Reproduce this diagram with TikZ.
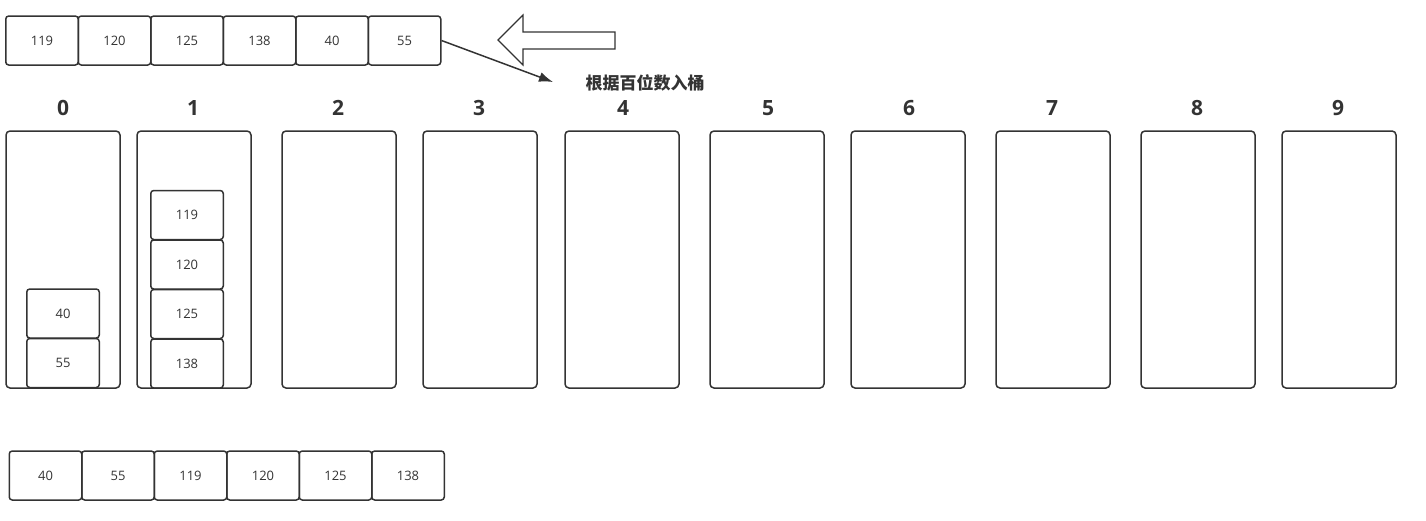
\documentclass[tikz,border=0pt]{standalone}
\usepackage{fontspec}
\setmainfont{Open Sans}
\newfontfamily\cjk{Noto Sans CJK SC}
\usetikzlibrary{arrows.meta}
\definecolor{ink}{HTML}{333333}
\begin{document}
\begin{tikzpicture}
			[x=1pt,y=-1pt,
			cell/.style={draw=ink,line width=1.5pt,rounded corners=3pt,minimum width=72.5pt,minimum height=49pt,inner sep=0pt,text=ink,font=\fontsize{13}{15}\selectfont},
			bucket/.style={draw=ink,line width=1.5pt,rounded corners=4pt,minimum width=114pt,minimum height=257pt,inner sep=0pt},
			digit/.style={text=ink,font=\fontsize{21}{25}\selectfont\bfseries},
			>={Latex[length=14pt,width=10pt]}]
			\useasboundingbox(0,0)rectangle(1426,520);
			% input sequence
			\node[cell,name=a1]at(42,40.5){119};
			\node[cell,name=a2]at(114.5,40.5){120};
			\node[cell,name=a3]at(187,40.5){125};
			\node[cell,name=a4]at(259.5,40.5){138};
			\node[cell,name=a5]at(332,40.5){40};
			\node[cell,name=a6]at(404.5,40.5){55};
			\draw[ink,line width=1.2pt,fill=white](615,32)--(523,32)--(523,15)--(498,40)--(523,65)--(523,49)--(615,49)--cycle;
			\coordinate(hit)at(553,82);
			\draw[->,ink,line width=1.5pt](a6.east)--(hit);
			\node[name=rule,text=ink,font=\cjk\fontsize{17}{19}\selectfont\bfseries]at(645,83){根据百位数入桶};
			% buckets
			\node[bucket,name=b0]at(63,259.5){};
			\node[bucket,name=b1]at(194,259.5){};
			\node[bucket,name=b2]at(339,259.5){};
			\node[bucket,name=b3]at(480,259.5){};
			\node[bucket,name=b4]at(622,259.5){};
			\node[bucket,name=b5]at(767,259.5){};
			\node[bucket,name=b6]at(908,259.5){};
			\node[bucket,name=b7]at(1053,259.5){};
			\node[bucket,name=b8]at(1198,259.5){};
			\node[bucket,name=b9]at(1339,259.5){};
			\node[digit,name=d0]at(63,108){0};
			\node[digit,name=d1]at(193,108){1};
			\node[digit,name=d2]at(338,108){2};
			\node[digit,name=d3]at(479,108){3};
			\node[digit,name=d4]at(623,108){4};
			\node[digit,name=d5]at(768,108){5};
			\node[digit,name=d6]at(909,108){6};
			\node[digit,name=d7]at(1052,108){7};
			\node[digit,name=d8]at(1197,108){8};
			\node[digit,name=d9]at(1338,108){9};
			% bucket contents
			\node[cell,name=c40]at(63,313.5){40};
			\node[cell,name=c55]at(63,363){55};
			\node[cell,name=c119]at(187,215){119};
			\node[cell,name=c120]at(187,264.5){120};
			\node[cell,name=c125]at(187,314){125};
			\node[cell,name=c138]at(187,363.5){138};
			% collected sequence
			\node[cell,name=e1]at(45.5,475.5){40};
			\node[cell,name=e2]at(118,475.5){55};
			\node[cell,name=e3]at(190.5,475.5){119};
			\node[cell,name=e4]at(263,475.5){120};
			\node[cell,name=e5]at(335.5,475.5){125};
			\node[cell,name=e6]at(408,475.5){138};
		\end{tikzpicture}
\end{document}
